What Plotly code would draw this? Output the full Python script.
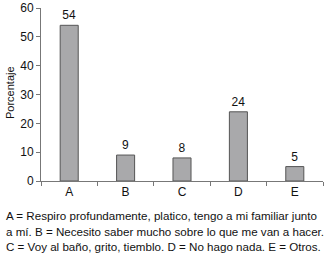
import plotly.graph_objects as go

categories = ["A", "B", "C", "D", "E"]
values = [54, 9, 8, 24, 5]
y_ticks = [0, 10, 20, 30, 40, 50, 60]
y_title = "Porcentaje"
footnote_lines = [
    "A = Respiro profundamente, platico, tengo a mi familiar junto",
    "a mí. B = Necesito saber mucho sobre lo que me van a hacer.",
    "C = Voy al baño, grito, tiemblo. D = No hago nada. E = Otros.",
]

font_family = "Liberation Sans, Arial, sans-serif"

fig = go.Figure(
    go.Bar(
        x=categories,
        y=values,
        width=0.32,
        marker=dict(color="#a9a9ab", line=dict(color="#555555", width=1)),
        text=[str(v) for v in values],
        textposition="outside",
        textfont=dict(size=12, color="#111111", family=font_family),
        cliponaxis=False,
    )
)

fig.update_layout(
    width=324,
    height=256,
    margin=dict(l=41, r=1, t=8, b=75),
    plot_bgcolor="white",
    paper_bgcolor="white",
    showlegend=False,
    font=dict(family=font_family, size=12, color="#111111"),
    xaxis=dict(
        showline=True,
        linecolor="#777777",
        linewidth=1,
        ticks="outside",
        tickson="boundaries",
        ticklen=4,
        tickcolor="#777777",
        showgrid=False,
        tickfont=dict(size=12),
        range=[-0.5, 4.5],
        automargin=False,
    ),
    yaxis=dict(
        range=[0, 60],
        tickvals=y_ticks,
        showline=True,
        linecolor="#777777",
        linewidth=1,
        ticks="outside",
        ticklen=4,
        tickcolor="#777777",
        showgrid=False,
        zeroline=False,
        tickfont=dict(size=12),
        automargin=False,
    ),
)

plot_w = 324 - 41 - 1
plot_h = 256 - 8 - 75

fig.add_annotation(
    text=y_title,
    textangle=-90,
    xref="paper",
    yref="paper",
    x=(10 - 41) / plot_w,
    y=(181 - 93) / plot_h,
    xanchor="center",
    yanchor="middle",
    showarrow=False,
    font=dict(size=11, family=font_family, color="#111111"),
)

footnote_y_px = [215, 231, 246]
for line, ypx in zip(footnote_lines, footnote_y_px):
    fig.add_annotation(
        text=line,
        xref="paper",
        yref="paper",
        x=(4 - 41) / plot_w,
        y=-(ypx - 181) / plot_h,
        xanchor="left",
        yanchor="middle",
        showarrow=False,
        font=dict(size=11.6, family=font_family, color="#111111"),
    )

fig.write_html(
    "out.html",
    config={"displayModeBar": False},
    post_script="document.body.style.margin='0';document.body.style.padding='0';document.body.style.overflow='hidden';",
)
